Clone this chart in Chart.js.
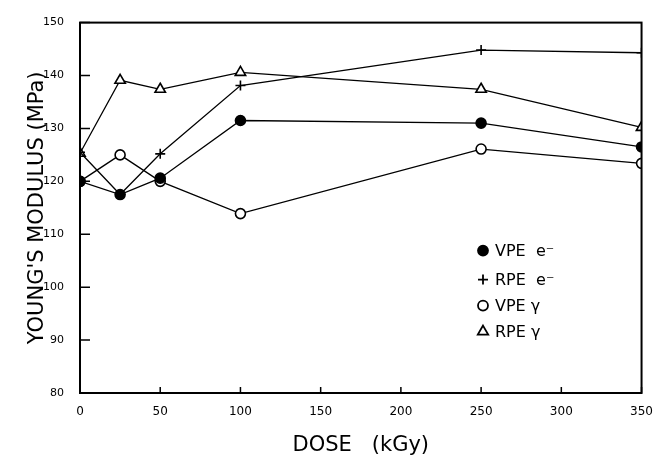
<!DOCTYPE html>
<html>
<head>
<meta charset="utf-8">
<script src="https://cdn.jsdelivr.net/npm/chart.js@4.4.0/dist/chart.umd.min.js"></script>
<style>
  html, body { margin: 0; padding: 0; background: #fff; }
  #wrap { width: 665px; height: 457px; }
</style>
</head>
<body>
<div id="wrap"><canvas id="c" width="665" height="457"></canvas></div>
<script>
// dose (kGy) and Young's modulus (MPa)
const doses = [0, 25, 50, 100, 250, 350];
const vpeE = [120, 117.5, 120.6, 131.5, 131, 126.5];
const rpeE = [125.5, 117.5, 125.2, 138.1, 144.8, 144.3];
const vpeG = [120, 125, 120, 113.9, 126.1, 123.4];
const rpeG = [125.3, 139.1, 137.4, 140.6, 137.4, 130.2];

const xTicks = [0, 50, 100, 150, 200, 250, 300, 350];
const yTicks = [80, 90, 100, 110, 120, 130, 140, 150];

const seriesNames = ['VPE  e\u207B', 'RPE  e\u207B', 'VPE \u03B3', 'RPE \u03B3'];

const FONT = "'DejaVu Sans', sans-serif";

function pts(vals) {
  return doses.map((d, i) => ({ x: d, y: vals[i] }));
}

function ds(label, vals, style, fill, radius) {
  return {
    label,
    data: pts(vals),
    borderColor: '#000',
    borderWidth: 1.3,
    pointStyle: style,
    pointRadius: radius,
    pointBorderWidth: 1.6,
    pointBorderColor: '#000',
    pointBackgroundColor: fill,
    tension: 0,
    fill: false,
  };
}

// frame + inward tick marks
const frame = {
  id: 'frame',
  afterDraw(chart) {
    const { ctx, chartArea: a, scales } = chart;
    ctx.save();
    ctx.strokeStyle = '#000';
    ctx.lineWidth = 2;
    ctx.strokeRect(a.left, a.top, a.right - a.left, a.bottom - a.top);
    ctx.lineWidth = 1.5;
    ctx.beginPath();
    yTicks.forEach(v => {
      const y = scales.y.getPixelForValue(v);
      ctx.moveTo(a.left, y);
      ctx.lineTo(a.left + 10, y);
    });
    xTicks.forEach(v => {
      const x = scales.x.getPixelForValue(v);
      ctx.moveTo(x, a.bottom);
      ctx.lineTo(x, a.bottom - 6);
    });
    ctx.stroke();
    ctx.restore();
  },
};

// legend inside the plot
const innerLegend = {
  id: 'innerLegend',
  afterDraw(chart) {
    const { ctx, chartArea: a } = chart;
    const rows = [228, 257, 283, 309];
    ctx.save();
    ctx.font = '16px ' + FONT;
    ctx.fillStyle = '#000';
    ctx.textBaseline = 'middle';
    chart.data.datasets.forEach((d, i) => {
      const x = a.left + 403;
      const y = a.top + rows[i];
      ctx.strokeStyle = '#000';
      ctx.fillStyle = d.pointBackgroundColor;
      ctx.lineWidth = 1.8;
      Chart.helpers.drawPoint(ctx, { pointStyle: d.pointStyle, radius: d.pointRadius, rotation: 0, borderWidth: 1.8 }, x, y);
      ctx.fillStyle = '#000';
      ctx.fillText(seriesNames[i], x + 12, y + 1);
    });
    ctx.restore();
  },
};

new Chart(document.getElementById('c'), {
  type: 'line',
  data: {
    datasets: [
      ds(seriesNames[0], vpeE, 'circle', '#000', 5),
      ds(seriesNames[1], rpeE, 'cross', '#000', 5),
      ds(seriesNames[2], vpeG, 'circle', '#fff', 5),
      ds(seriesNames[3], rpeG, 'triangle', '#fff', 6),
    ],
  },
  options: {
    responsive: false,
    animation: false,
    layout: { padding: { top: 19, right: 15, left: 0, bottom: 0 } },
    plugins: {
      legend: { display: false },
      tooltip: { enabled: false },
    },
    scales: {
      x: {
        type: 'linear',
        min: 0,
        max: 350,
        afterBuildTicks: s => { s.ticks = xTicks.map(v => ({ value: v })); },
        afterFit: s => { s.height = 64; },
        grid: { display: false, drawTicks: false },
        border: { display: false },
        ticks: { color: '#000', padding: 12, font: { family: FONT, size: 12 } },
        title: {
          display: true,
          text: 'DOSE   (kGy)',
          color: '#000',
          font: { family: FONT, size: 21, lineHeight: 1 },
          padding: { top: 0, bottom: 1 },
        },
      },
      y: {
        min: 80,
        max: 150,
        afterBuildTicks: s => { s.ticks = yTicks.map(v => ({ value: v })); },
        afterFit: s => { s.width = 80; },
        grid: { display: false, drawTicks: false },
        border: { display: false },
        ticks: { color: '#000', padding: 16, font: { family: FONT, size: 11 } },
        title: {
          display: true,
          text: "YOUNG'S MODULUS (MPa)",
          color: '#000',
          font: { family: FONT, size: 21, lineHeight: 1.2 },
          padding: { top: 25, bottom: 0 },
        },
      },
    },
  },
  plugins: [frame, innerLegend],
});
</script>
</body>
</html>
